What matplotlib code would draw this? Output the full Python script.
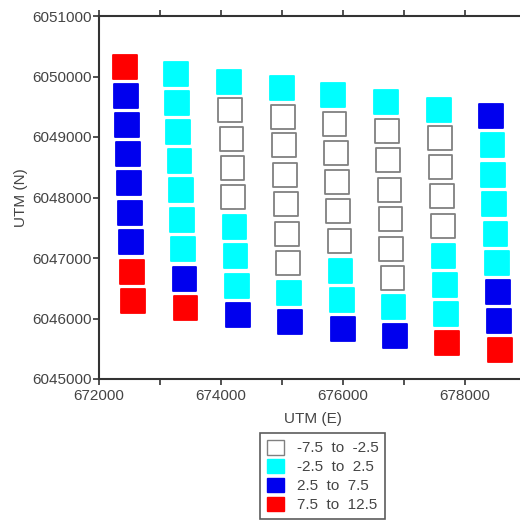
import matplotlib
matplotlib.use("Agg")
import matplotlib.pyplot as plt
from matplotlib.patches import Patch
import numpy as np

plt.rcParams["font.family"] = ["Liberation Sans", "DejaVu Sans"]

# Coordenadas de las estaciones (una lista por columna de la malla)
este = [
    [672430, 672440, 672460, 672480, 672490, 672510, 672520, 672540, 672560],
    [673260, 673280, 673300, 673320, 673340, 673360, 673380, 673400, 673420],
    [674130, 674150, 674170, 674190, 674200, 674220, 674240, 674260, 674280],
    [675000, 675020, 675030, 675050, 675070, 675080, 675100, 675110, 675130],
    [675840, 675860, 675880, 675900, 675920, 675940, 675960, 675980, 676000],
    [676700, 676720, 676740, 676760, 676780, 676790, 676810, 676830, 676850],
    [677570, 677590, 677600, 677620, 677640, 677650, 677670, 677690, 677700],
    [678430, 678450, 678460, 678480, 678500, 678520, 678540, 678560, 678570],
]
norte = [
    [6050160, 6049680, 6049200, 6048720, 6048240, 6047740, 6047260, 6046770, 6046290],
    [6050040, 6049560, 6049080, 6048600, 6048120, 6047630, 6047150, 6046650, 6046170],
    [6049910, 6049450, 6048970, 6048490, 6048010, 6047510, 6047030, 6046540, 6046060],
    [6049810, 6049330, 6048870, 6048370, 6047890, 6047400, 6046920, 6046420, 6045940],
    [6049690, 6049220, 6048740, 6048260, 6047780, 6047280, 6046790, 6046310, 6045830],
    [6049580, 6049100, 6048620, 6048120, 6047650, 6047150, 6046670, 6046190, 6045710],
    [6049450, 6048980, 6048500, 6048030, 6047530, 6047030, 6046550, 6046070, 6045600],
    [6049350, 6048870, 6048370, 6047890, 6047400, 6046920, 6046440, 6045960, 6045480],
]
# Valor (centro de clase) en cada estación
valor = [
    [10, 5, 5, 5, 5, 5, 5, 10, 10],
    [0, 0, 0, 0, 0, 0, 0, 5, 10],
    [0, -5, -5, -5, -5, 0, 0, 0, 5],
    [0, -5, -5, -5, -5, -5, -5, 0, 5],
    [0, -5, -5, -5, -5, -5, 0, 0, 5],
    [0, -5, -5, -5, -5, -5, -5, 0, 5],
    [0, -5, -5, -5, -5, 0, 0, 0, 10],
    [5, 0, 0, 0, 0, 0, 5, 5, 10],
]

clases = ["-7.5  to  -2.5", "-2.5  to  2.5", "2.5  to  7.5", "7.5  to  12.5"]
limites = [-7.5, -2.5, 2.5, 7.5, 12.5]
colores = ["white", "#00ffff", "#0000ee", "#ff0000"]
bordes = ["#808080", "#00ffff", "#0000ee", "#ff0000"]

x = np.array(este).ravel()
y = np.array(norte).ravel()
v = np.array(valor).ravel()
idx = np.digitize(v, limites) - 1

fig = plt.figure(figsize=(5.2, 5.29), dpi=100)
ax = fig.add_axes([99 / 520, 1 - 379 / 529, 427 / 520, 363 / 529])

ax.scatter(x, y, s=290, marker="s",
           c=[colores[i] for i in idx],
           edgecolors=[bordes[i] for i in idx], linewidths=1.3)

ax.set_xlim(672000, 679000)
ax.set_ylim(6045000, 6051000)
ax.set_xticks([672000, 674000, 676000, 678000])
ax.set_xticks(np.arange(673000, 679001, 2000), minor=True)
ax.set_yticks(np.arange(6045000, 6051001, 1000))
ax.ticklabel_format(useOffset=False, style="plain")

ax.tick_params(axis="both", which="both", direction="out", length=4, width=1.2,
               colors="#333333", labelsize=11, labelcolor="#444444")
ax.tick_params(axis="x", which="both", top=True, labeltop=False)
ax.tick_params(axis="y", which="both", right=False)
ax.tick_params(axis="y", pad=1)

for lado in ["left", "bottom", "top"]:
    ax.spines[lado].set_color("#333333")
    ax.spines[lado].set_linewidth(1.5)
ax.spines["right"].set_visible(False)

ax.set_xlabel("UTM (E)", fontsize=11, color="#444444", labelpad=6)
ax.set_ylabel("UTM (N)", fontsize=11, color="#444444", labelpad=3)

handles = [Patch(facecolor=colores[i], edgecolor=bordes[i], linewidth=1) for i in range(len(clases))]
leg = fig.legend(handles, clases, loc="upper left", bbox_to_anchor=(260 / 520, 1 - 433 / 529),
                 borderaxespad=0, fontsize=11, fancybox=False, handlelength=1.1, handleheight=1.1,
                 labelspacing=0.22, handletextpad=0.85, borderpad=0.45)
leg.get_frame().set_edgecolor("#333333")
leg.get_frame().set_linewidth(1.2)
for t in leg.get_texts():
    t.set_color("#444444")

fig.savefig("out.png", dpi=100)
